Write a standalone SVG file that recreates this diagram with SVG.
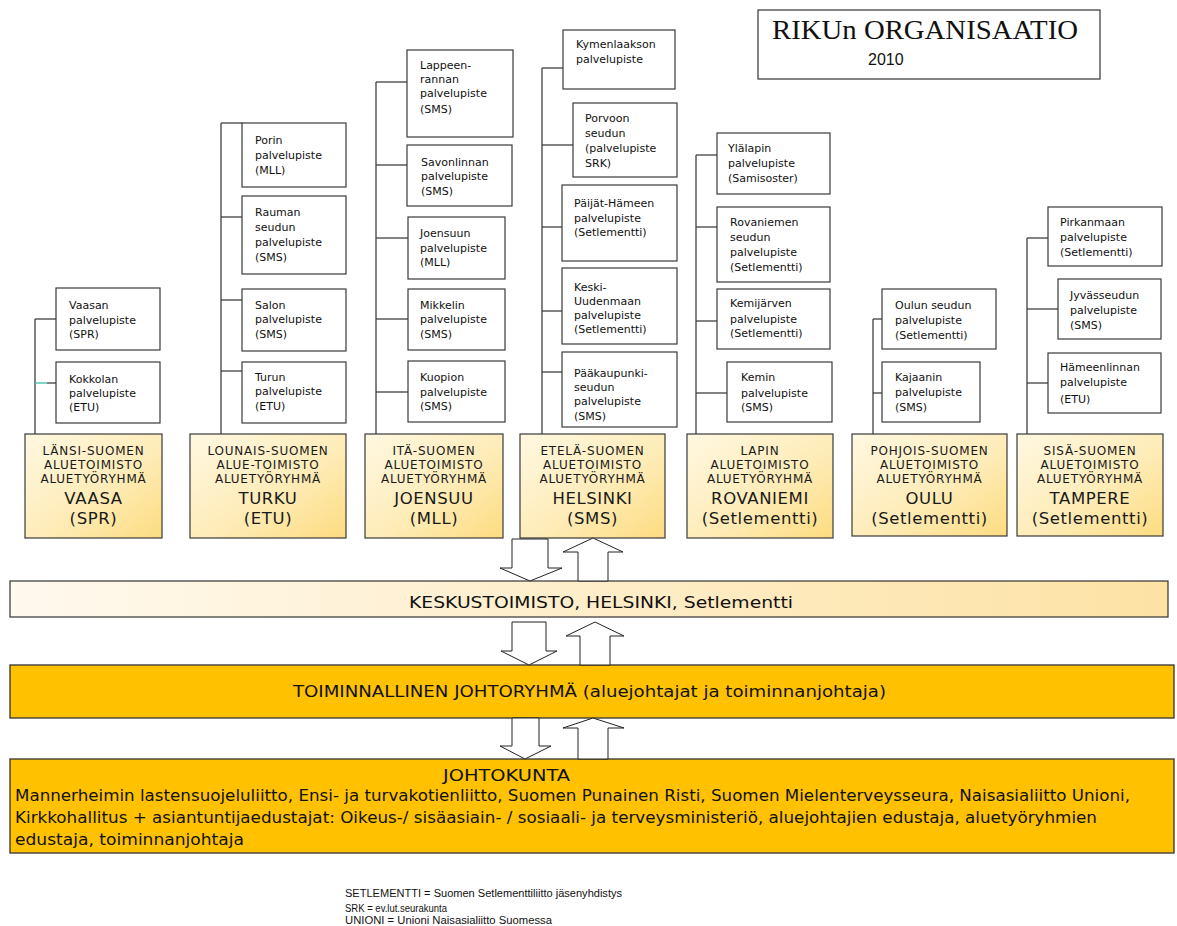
<svg xmlns="http://www.w3.org/2000/svg" width="1177" height="926" viewBox="0 0 1177 926">
<defs>
<linearGradient id="gReg" x1="0" y1="0" x2="1" y2="1">
<stop offset="0" stop-color="#FFF8E2"/>
<stop offset="0.55" stop-color="#FEECB8"/>
<stop offset="1" stop-color="#FDDC80"/>
</linearGradient>
<linearGradient id="gKesk" x1="0" y1="0" x2="1" y2="0">
<stop offset="0" stop-color="#FFF9EE"/>
<stop offset="1" stop-color="#FDE2A4"/>
</linearGradient>
<style>
.box{fill:#fff;stroke:#3a3a3a;stroke-width:1.2}
.reg{fill:url(#gReg);stroke:#3a3a3a;stroke-width:1.2}
.bar{fill:#FFC100;stroke:#333;stroke-width:1.3}
.st{font-family:"DejaVu Sans",sans-serif;font-size:11px;fill:#111}
.rt{font-family:"DejaVu Sans",sans-serif;font-size:12px;letter-spacing:0.8px;fill:#1a1a1a;text-anchor:middle}
.rb{font-size:16.5px;letter-spacing:0.6px}
.bt{font-family:"DejaVu Sans",sans-serif;font-size:15px;fill:#111}
.conn line{stroke:#404040;stroke-width:1.3}
.arrow{fill:#fff;stroke:#222;stroke-width:1}
.fn{font-family:"Liberation Sans",Arial,sans-serif;font-size:10px;fill:#111}
</style>
</defs>
<rect width="1177" height="926" fill="#fff"/>

<g id="title">
<rect x="758" y="10" width="342" height="69" fill="#fff" stroke="#333" stroke-width="1.2"/>
<text x="772" y="39" font-family="Liberation Serif,serif" font-size="28" fill="#111" textLength="306" lengthAdjust="spacingAndGlyphs">RIKUn ORGANISAATIO</text>
<text x="868" y="65" font-family="Liberation Sans,Arial,sans-serif" font-size="16" fill="#111">2010</text>
</g>

<g id="connectors" class="conn">
<!-- Vaasa -->
<line x1="35" y1="319" x2="35" y2="434"/>
<line x1="35" y1="319" x2="56" y2="319"/>
<line x1="47" y1="383" x2="56" y2="383"/>
<line x1="35" y1="383" x2="47" y2="383" style="stroke:#3DBFA8"/>
<!-- Turku -->
<line x1="221" y1="123" x2="221" y2="434"/>
<line x1="221" y1="123" x2="242" y2="123"/>
<line x1="221" y1="217" x2="242" y2="217"/>
<line x1="221" y1="300" x2="242" y2="300"/>
<line x1="221" y1="371" x2="242" y2="371"/>
<!-- Joensuu -->
<line x1="376" y1="82" x2="376" y2="434"/>
<line x1="376" y1="82" x2="407" y2="82"/>
<line x1="376" y1="165" x2="407" y2="165"/>
<line x1="376" y1="238" x2="408" y2="238"/>
<line x1="376" y1="319" x2="408" y2="319"/>
<line x1="376" y1="392" x2="408" y2="392"/>
<!-- Helsinki -->
<line x1="542" y1="68" x2="542" y2="434"/>
<line x1="542" y1="68" x2="563" y2="68"/>
<line x1="542" y1="145" x2="573" y2="145"/>
<line x1="542" y1="227" x2="562" y2="227"/>
<line x1="542" y1="311" x2="562" y2="311"/>
<line x1="542" y1="372" x2="562" y2="372"/>
<!-- Rovaniemi -->
<line x1="696" y1="155" x2="696" y2="434"/>
<line x1="696" y1="155" x2="717" y2="155"/>
<line x1="696" y1="227" x2="717" y2="227"/>
<line x1="696" y1="321" x2="717" y2="321"/>
<line x1="696" y1="393" x2="727" y2="393"/>
<!-- Oulu -->
<line x1="873" y1="319" x2="873" y2="434"/>
<line x1="873" y1="319" x2="882" y2="319"/>
<line x1="873" y1="393" x2="882" y2="393"/>
<!-- Tampere -->
<line x1="1027" y1="238" x2="1027" y2="434"/>
<line x1="1027" y1="238" x2="1048" y2="238"/>
<line x1="1027" y1="309" x2="1058" y2="309"/>
<line x1="1027" y1="383" x2="1048" y2="383"/>
</g>

<!-- Vaasa column -->
<g id="vaasan"><rect class="box" x="56" y="288" width="104" height="62"/>
<text class="st"><tspan x="69" y="309">Vaasan</tspan><tspan x="69" y="324">palvelupiste</tspan><tspan x="69" y="338">(SPR)</tspan></text></g>
<g id="kokkolan"><rect class="box" x="56" y="362" width="104" height="61"/>
<text class="st"><tspan x="69" y="383">Kokkolan</tspan><tspan x="69" y="397">palvelupiste</tspan><tspan x="69" y="411">(ETU)</tspan></text></g>
<g id="vaasa"><rect class="reg" x="25" y="434" width="137" height="104"/>
<text class="rt"><tspan x="93.5" y="455">LÄNSI-SUOMEN</tspan><tspan x="93.5" y="469">ALUETOIMISTO</tspan><tspan x="93.5" y="483">ALUETYÖRYHMÄ</tspan><tspan class="rb" x="93.5" y="504">VAASA</tspan><tspan class="rb" x="93.5" y="524">(SPR)</tspan></text></g>

<!-- Turku column -->
<g id="porin"><rect class="box" x="242" y="123" width="104" height="64"/>
<text class="st"><tspan x="255" y="144">Porin</tspan><tspan x="255" y="159">palvelupiste</tspan><tspan x="255" y="174">(MLL)</tspan></text></g>
<g id="rauman"><rect class="box" x="242" y="196" width="104" height="78"/>
<text class="st"><tspan x="255" y="216">Rauman</tspan><tspan x="255" y="231">seudun</tspan><tspan x="255" y="246">palvelupiste</tspan><tspan x="255" y="261">(SMS)</tspan></text></g>
<g id="salon"><rect class="box" x="242" y="289" width="104" height="62"/>
<text class="st"><tspan x="255" y="309">Salon</tspan><tspan x="255" y="323">palvelupiste</tspan><tspan x="255" y="338">(SMS)</tspan></text></g>
<g id="turun"><rect class="box" x="242" y="362" width="104" height="61"/>
<text class="st"><tspan x="255" y="381">Turun</tspan><tspan x="255" y="395">palvelupiste</tspan><tspan x="255" y="410">(ETU)</tspan></text></g>
<g id="turku"><rect class="reg" x="190" y="434" width="156" height="104"/>
<text class="rt"><tspan x="268" y="455">LOUNAIS-SUOMEN</tspan><tspan x="268" y="469">ALUE-TOIMISTO</tspan><tspan x="268" y="483">ALUETYÖRYHMÄ</tspan><tspan class="rb" x="268" y="504">TURKU</tspan><tspan class="rb" x="268" y="524">(ETU)</tspan></text></g>

<!-- Joensuu column -->
<g id="lappeenrannan"><rect class="box" x="407" y="50" width="106" height="87"/>
<text class="st"><tspan x="420" y="69">Lappeen-</tspan><tspan x="420" y="83">rannan</tspan><tspan x="420" y="97">palvelupiste</tspan><tspan x="420" y="113">(SMS)</tspan></text></g>
<g id="savonlinnan"><rect class="box" x="407" y="145" width="105" height="61"/>
<text class="st"><tspan x="421" y="166">Savonlinnan</tspan><tspan x="421" y="180">palvelupiste</tspan><tspan x="421" y="195">(SMS)</tspan></text></g>
<g id="joensuun"><rect class="box" x="408" y="217" width="97" height="62"/>
<text class="st"><tspan x="420" y="237">Joensuun</tspan><tspan x="420" y="252">palvelupiste</tspan><tspan x="420" y="266">(MLL)</tspan></text></g>
<g id="mikkelin"><rect class="box" x="408" y="289" width="97" height="61"/>
<text class="st"><tspan x="420" y="309">Mikkelin</tspan><tspan x="420" y="323">palvelupiste</tspan><tspan x="420" y="338">(SMS)</tspan></text></g>
<g id="kuopion"><rect class="box" x="408" y="361" width="97" height="61"/>
<text class="st"><tspan x="420" y="381">Kuopion</tspan><tspan x="420" y="396">palvelupiste</tspan><tspan x="420" y="410">(SMS)</tspan></text></g>
<g id="joensuu"><rect class="reg" x="365" y="434" width="138" height="104"/>
<text class="rt"><tspan x="434" y="455">ITÄ-SUOMEN</tspan><tspan x="434" y="469">ALUETOIMISTO</tspan><tspan x="434" y="483">ALUETYÖRYHMÄ</tspan><tspan class="rb" x="434" y="504">JOENSUU</tspan><tspan class="rb" x="434" y="524">(MLL)</tspan></text></g>

<!-- Helsinki column -->
<g id="kymenlaakson"><rect class="box" x="563" y="30" width="112" height="59"/>
<text class="st"><tspan x="576" y="48">Kymenlaakson</tspan><tspan x="576" y="63">palvelupiste</tspan></text></g>
<g id="porvoon"><rect class="box" x="573" y="103" width="104" height="74"/>
<text class="st"><tspan x="585" y="122">Porvoon</tspan><tspan x="585" y="137">seudun</tspan><tspan x="585" y="152">(palvelupiste</tspan><tspan x="585" y="167">SRK)</tspan></text></g>
<g id="paijat-hameen"><rect class="box" x="562" y="185" width="115" height="76"/>
<text class="st"><tspan x="574" y="207">Päijät-Hämeen</tspan><tspan x="574" y="222">palvelupiste</tspan><tspan x="574" y="236">(Setlementti)</tspan></text></g>
<g id="keski-uudenmaan"><rect class="box" x="562" y="268" width="115" height="76"/>
<text class="st"><tspan x="574" y="291">Keski-</tspan><tspan x="574" y="305">Uudenmaan</tspan><tspan x="574" y="319">palvelupiste</tspan><tspan x="574" y="333">(Setlementti)</tspan></text></g>
<g id="paakaupunki"><rect class="box" x="562" y="352" width="115" height="75"/>
<text class="st"><tspan x="574" y="377">Pääkaupunki-</tspan><tspan x="574" y="391">seudun</tspan><tspan x="574" y="405">palvelupiste</tspan><tspan x="574" y="420">(SMS)</tspan></text></g>
<g id="helsinki"><rect class="reg" x="520" y="434" width="145" height="104"/>
<text class="rt"><tspan x="592.5" y="455">ETELÄ-SUOMEN</tspan><tspan x="592.5" y="469">ALUETOIMISTO</tspan><tspan x="592.5" y="483">ALUETYÖRYHMÄ</tspan><tspan class="rb" x="592.5" y="504">HELSINKI</tspan><tspan class="rb" x="592.5" y="524">(SMS)</tspan></text></g>

<!-- Rovaniemi column -->
<g id="ylalapin"><rect class="box" x="717" y="133" width="113" height="61"/>
<text class="st"><tspan x="728" y="152">Ylälapin</tspan><tspan x="728" y="167">palvelupiste</tspan><tspan x="728" y="182">(Samisoster)</tspan></text></g>
<g id="rovaniemen"><rect class="box" x="717" y="207" width="113" height="75"/>
<text class="st"><tspan x="730" y="226">Rovaniemen</tspan><tspan x="730" y="241">seudun</tspan><tspan x="730" y="256">palvelupiste</tspan><tspan x="730" y="271">(Setlementti)</tspan></text></g>
<g id="kemijarven"><rect class="box" x="717" y="289" width="113" height="60"/>
<text class="st"><tspan x="730" y="307">Kemijärven</tspan><tspan x="730" y="323">palvelupiste</tspan><tspan x="730" y="337">(Setlementti)</tspan></text></g>
<g id="kemin"><rect class="box" x="727" y="362" width="105" height="60"/>
<text class="st"><tspan x="741" y="381">Kemin</tspan><tspan x="741" y="397">palvelupiste</tspan><tspan x="741" y="411">(SMS)</tspan></text></g>
<g id="rovaniemi"><rect class="reg" x="687" y="434" width="146" height="104"/>
<text class="rt"><tspan x="760" y="455">LAPIN</tspan><tspan x="760" y="469">ALUETOIMISTO</tspan><tspan x="760" y="483">ALUETYÖRYHMÄ</tspan><tspan class="rb" x="760" y="504">ROVANIEMI</tspan><tspan class="rb" x="760" y="524">(Setlementti)</tspan></text></g>

<!-- Oulu column -->
<g id="oulun-seudun"><rect class="box" x="882" y="289" width="114" height="60"/>
<text class="st"><tspan x="895" y="309">Oulun seudun</tspan><tspan x="895" y="324">palvelupiste</tspan><tspan x="895" y="339">(Setlementti)</tspan></text></g>
<g id="kajaanin"><rect class="box" x="882" y="362" width="98" height="60"/>
<text class="st"><tspan x="895" y="381">Kajaanin</tspan><tspan x="895" y="396">palvelupiste</tspan><tspan x="895" y="411">(SMS)</tspan></text></g>
<g id="oulu"><rect class="reg" x="852" y="434" width="155" height="102"/>
<text class="rt"><tspan x="929.5" y="455">POHJOIS-SUOMEN</tspan><tspan x="929.5" y="469">ALUETOIMISTO</tspan><tspan x="929.5" y="483">ALUETYÖRYHMÄ</tspan><tspan class="rb" x="929.5" y="504">OULU</tspan><tspan class="rb" x="929.5" y="524">(Setlementti)</tspan></text></g>

<!-- Tampere column -->
<g id="pirkanmaan"><rect class="box" x="1048" y="207" width="114" height="59"/>
<text class="st"><tspan x="1060" y="226">Pirkanmaan</tspan><tspan x="1060" y="241">palvelupiste</tspan><tspan x="1060" y="256">(Setlementti)</tspan></text></g>
<g id="jyvasseudun"><rect class="box" x="1058" y="279" width="103" height="60"/>
<text class="st"><tspan x="1070" y="299">Jyvässeudun</tspan><tspan x="1070" y="314">palvelupiste</tspan><tspan x="1070" y="329">(SMS)</tspan></text></g>
<g id="hameenlinnan"><rect class="box" x="1048" y="353" width="113" height="60"/>
<text class="st"><tspan x="1060" y="371">Hämeenlinnan</tspan><tspan x="1060" y="386">palvelupiste</tspan><tspan x="1060" y="403">(ETU)</tspan></text></g>
<g id="tampere"><rect class="reg" x="1017" y="434" width="146" height="102"/>
<text class="rt"><tspan x="1090" y="455">SISÄ-SUOMEN</tspan><tspan x="1090" y="469">ALUETOIMISTO</tspan><tspan x="1090" y="483">ALUETYÖRYHMÄ</tspan><tspan class="rb" x="1090" y="504">TAMPERE</tspan><tspan class="rb" x="1090" y="524">(Setlementti)</tspan></text></g>

<!-- Bars -->
<g id="keskustoimisto"><rect x="10" y="581" width="1158" height="36" fill="url(#gKesk)" stroke="#333" stroke-width="1.2"/>
<text class="bt" x="409" y="608" textLength="384" lengthAdjust="spacingAndGlyphs">KESKUSTOIMISTO, HELSINKI, Setlementti</text></g>
<g id="toiminnallinen"><rect class="bar" x="10" y="665" width="1164" height="53"/>
<text class="bt" x="293" y="697" textLength="593" lengthAdjust="spacingAndGlyphs">TOIMINNALLINEN JOHTORYHMÄ (aluejohtajat ja toiminnanjohtaja)</text></g>
<g id="johtokunta"><rect class="bar" x="10" y="759" width="1164" height="94"/>
<text class="bt" x="443" y="781" textLength="127" lengthAdjust="spacingAndGlyphs">JOHTOKUNTA</text>
<text class="bt" x="15" y="801" textLength="1115" lengthAdjust="spacingAndGlyphs">Mannerheimin lastensuojeluliitto, Ensi- ja turvakotienliitto, Suomen Punainen Risti, Suomen Mielenterveysseura, Naisasialiitto Unioni,</text>
<text class="bt" x="15" y="823" textLength="1082" lengthAdjust="spacingAndGlyphs">Kirkkohallitus + asiantuntijaedustajat: Oikeus-/ sisäasiain- / sosiaali- ja terveysministeriö, aluejohtajien edustaja, aluetyöryhmien</text>
<text class="bt" x="15" y="845" textLength="229" lengthAdjust="spacingAndGlyphs">edustaja, toiminnanjohtaja</text></g>

<!-- Arrows -->
<g id="arrows" class="arrow">
<polygon points="512,539 548,539 548,568 562,568 530,581 500,568 512,568"/>
<polygon points="593,538 623,552 608,552 608,581 578,581 578,552 563,552"/>
<polygon points="512,622 546,622 546,651 557,651 529,665 501,651 512,651"/>
<polygon points="595,622 624,636 610,636 610,665 580,665 580,636 566,636"/>
<polygon points="512,718 539,718 539,746 551,746 525,759 500,746 512,746"/>
<polygon points="593,718 624,728 608,728 608,759 578,759 578,728 563,728"/>
</g>

<!-- Footnotes -->
<g id="footnotes">
<text class="fn" x="345" y="897" textLength="277" lengthAdjust="spacingAndGlyphs">SETLEMENTTI = Suomen Setlementtiliitto jäsenyhdistys</text>
<text class="fn" x="345" y="912" textLength="102" lengthAdjust="spacingAndGlyphs">SRK = ev.lut.seurakunta</text>
<text class="fn" x="345" y="924" textLength="207" lengthAdjust="spacingAndGlyphs">UNIONI = Unioni Naisasialiitto Suomessa</text>
</g>
</svg>
